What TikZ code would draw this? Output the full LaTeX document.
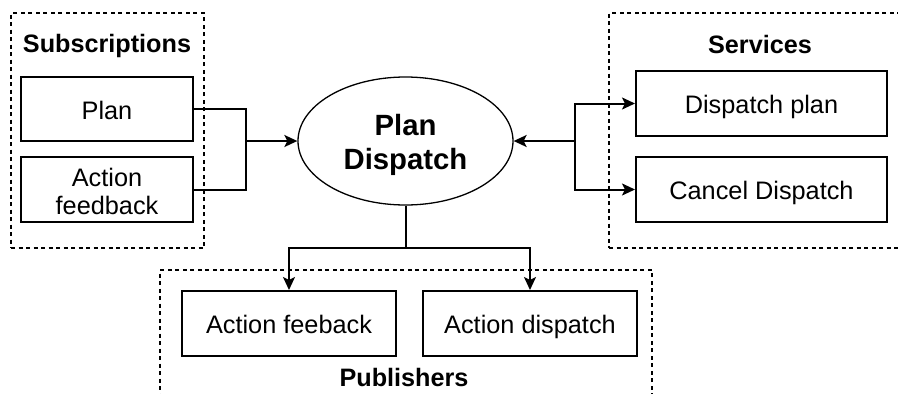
\documentclass[tikz,border=0pt]{standalone}
\usepackage{fontspec}
\setmainfont{Liberation Sans}
\usetikzlibrary{shapes.geometric,arrows.meta}
\begin{document}
\begin{tikzpicture}[x=1pt,y=-1pt,
  group/.style={draw, line width=1.5pt, dash pattern=on 4pt off 3.5pt, rectangle, inner sep=0pt},
  item/.style={draw, line width=2pt, rectangle, inner sep=0pt, minimum height=65pt,
    font=\fontsize{25.3}{30}\selectfont},
  oneline/.style={text height=23pt, text depth=2.5pt},
  title/.style={font=\fontsize{25.2}{30}\selectfont\bfseries, inner sep=0pt,
    text height=18pt, text depth=0pt},
  wire/.style={line width=2pt},
  tip/.style={-{Stealth[length=13pt,width=12pt,inset=3pt]}}
]
\useasboundingbox (0,0) rectangle (898,394);
\clip (0,0) rectangle (898,394);

% dashed groups
\node[group, minimum width=193pt, minimum height=235pt] (subs) at (107.5,130.5) {};
\node[group, minimum width=321pt, minimum height=235pt] (serv) at (769.5,130.5) {};
\node[group, minimum width=492pt, minimum height=160pt] (pubs) at (406,350) {};

% group titles
\node[title] (subst) at (107,43.5) {Subscriptions};
\node[title] (servt) at (760,44) {Services};
\node[title] (pubst) at (404,377) {Publishers};

% central node and its two-line label
\node[draw, ellipse, line width=1.3pt, inner sep=0pt, minimum width=215pt, minimum height=128pt] (pd) at (405.5,141) {};
\node[align=center, inner sep=0pt, font=\fontsize{29.3}{34}\selectfont\bfseries] (pdtext) at (405.5,145) {Plan\\Dispatch};

% subscriptions
\node[item, oneline, minimum width=172pt, minimum height=64pt] (plan) at (107,109) {Plan};
\node[item, align=center, minimum width=172pt] (afb) at (107,189.5) {\raisebox{-1.5pt}[21pt][0pt]{Action}\\feedback};

% services
\node[item, oneline, minimum width=251pt] (dp) at (761.5,103.5) {Dispatch plan};
\node[item, oneline, minimum width=251pt] (cd) at (761.5,189.5) {Cancel Dispatch};

% publishers
\node[item, oneline, minimum width=214pt] (afp) at (289,323.5) {Action feeback};
\node[item, oneline, minimum width=214pt] (adp) at (530,323.5) {Action dispatch};

% junction points
\coordinate (jl) at (246,141);
\coordinate (jr) at (575,141);
\coordinate (jb) at (405.5,248);

% connectors
\draw[wire] (plan.east) -| (jl) |- (afb.east);
\draw[wire, tip] (jl) -- (pd.west);

\draw[wire, tip] (jr) -- (pd.east);
\draw[wire, tip] (jr) |- (dp.west);
\draw[wire, tip] (jr) |- (cd.west);

\draw[wire] (pd.south) -- (jb);
\draw[wire, tip] (jb) -| (afp.north);
\draw[wire, tip] (jb) -| (adp.north);
\end{tikzpicture}
\end{document}
